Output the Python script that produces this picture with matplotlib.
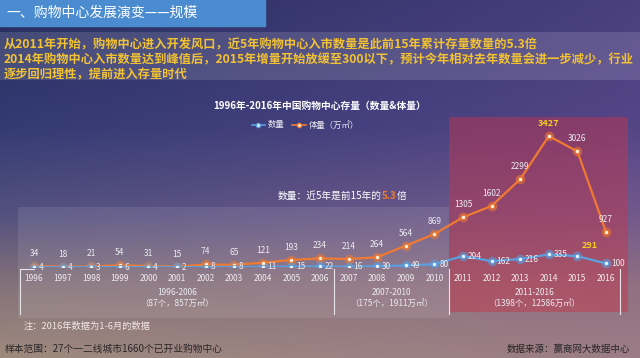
import numpy as np
import matplotlib
matplotlib.use('Agg')
import matplotlib.pyplot as plt
from matplotlib.patches import Rectangle
from matplotlib.lines import Line2D

plt.rcParams['font.family'] = ['Noto Sans CJK SC', 'DejaVu Sans']

years = list(range(1996, 2017))
count = [4, 4, 3, 6, 4, 2, 8, 8, 11, 15, 22, 16, 30, 49, 80, 294, 162, 216, 335, 291, 100]
volume = [34, 18, 21, 54, 31, 15, 74, 65, 121, 193, 234, 214, 264, 564, 869, 1305, 1602, 2299, 3427, 3026, 927]
periods = ['1996-2006', '2007-2010', '2011-2016']
period_info = ['（87个，857万㎡）', '（175个，1911万㎡）', '（1398个，12586万㎡）']
period_edges = [1995.5, 2006.5, 2010.5, 2016.5]

W, H = 640, 358
fig = plt.figure(figsize=(6.4, 3.58), dpi=100)

# background gradient
bg = fig.add_axes([0, 0, 1, 1])
bg.set_xlim(0, W)
bg.set_ylim(H, 0)
bg.axis('off')
stops = np.array([0.0, 0.35, 0.6, 0.8, 1.0])
left_c = np.array([[0.15, 0.18, 0.37], [0.20, 0.23, 0.45], [0.33, 0.32, 0.50],
                   [0.52, 0.45, 0.48], [0.62, 0.54, 0.49]])
right_c = np.array([[0.29, 0.25, 0.50], [0.33, 0.27, 0.53], [0.45, 0.35, 0.55],
                    [0.57, 0.44, 0.51], [0.61, 0.49, 0.53]])
ty = np.linspace(0, 1, H)
tx = np.linspace(0, 1, W)
L = np.stack([np.interp(ty, stops, left_c[:, k]) for k in range(3)], axis=1)
R = np.stack([np.interp(ty, stops, right_c[:, k]) for k in range(3)], axis=1)
img = L[:, None, :] * (1 - tx[None, :, None]) + R[:, None, :] * tx[None, :, None]
bg.imshow(img, extent=(0, W, H, 0), aspect='auto', zorder=0)

# header
bg.add_patch(Rectangle((0, 0), 265, 26, color='#4a8ccf', zorder=1))
bg.text(6, 13, '一、购物中心发展演变——规模', color='white', fontsize=10,
        va='center', ha='left', zorder=2)
bg.add_patch(Rectangle((0, 32), W, 48, color='white', alpha=0.13, zorder=1, lw=0))
lines = ['从2011年开始，购物中心进入开发风口，近5年购物中心入市数量是此前15年累计存量数量的5.3倍',
         '2014年购物中心入市数量达到峰值后，2015年增量开始放缓至300以下，预计今年相对去年数量会进一步减少，行业',
         '逐步回归理性，提前进入存量时代']
for i, s in enumerate(lines):
    bg.text(4, 45 + i * 15, s, color='#f2c232', fontsize=8.8, fontweight='bold',
            va='center', ha='left', zorder=2)

# panels
bg.add_patch(Rectangle((18, 207), 431, 111, color='white', alpha=0.09, lw=0, zorder=1))
bg.add_patch(Rectangle((449, 117), 179, 195, color='#c8344a', alpha=0.45, lw=0, zorder=1))

bg.text(320, 106, '1996年-2016年中国购物中心存量（数量&体量）', color='white',
        fontsize=7, fontweight='bold', ha='center', va='center')

# data axes: x 1995..2017 -> 5.4..634.6 px ; y 0..3700 -> 267.3..125.6 px
ax = fig.add_axes([5.4 / W, (H - 267.3) / H, 629.2 / W, 141.7 / H])
ax.set_facecolor('none')
ax.set_xlim(1995, 2017)
ax.set_ylim(0, 3700)
for sp in ax.spines.values():
    sp.set_visible(False)
ax.set_yticks([])
ax.set_xticks(years)
ax.set_xticklabels([str(y) for y in years])
ax.tick_params(axis='x', length=0, pad=4.5, labelsize=6, labelcolor='#f0ecf0')

orange = '#f07a32'
blue = '#5aa0e0'
ax.plot(years, volume, color=orange, lw=1.6, zorder=3)
ax.plot(years, count, color=blue, lw=1.6, zorder=3)
ax.plot(years, volume, 'o', ms=6, color=orange, alpha=0.45, zorder=4)
ax.plot(years, count, 'o', ms=6, color=blue, alpha=0.45, zorder=4)
ax.plot(years, volume, 'o', ms=3, mfc='#fff3e0', mec=orange, mew=0.6, zorder=5)
ax.plot(years, count, 'o', ms=3, mfc='#eef6ff', mec=blue, mew=0.6, zorder=5)

vmax = volume.index(max(volume))
for i, (y, v) in enumerate(zip(years, volume)):
    if i == vmax:
        ax.annotate(str(v), (y, v), xytext=(0, 9), textcoords='offset points',
                    ha='center', va='center', fontsize=6.5, fontweight='bold',
                    color='#f5d020', annotation_clip=False)
    else:
        ax.annotate(str(v), (y, v), xytext=(0, 9), textcoords='offset points',
                    ha='center', va='center', fontsize=6, color='#ecebf2',
                    annotation_clip=False)
for i, (y, c) in enumerate(zip(years, count)):
    if y == 2015:
        ax.annotate(str(c), (y, c), xytext=(3, 8), textcoords='offset points',
                    ha='left', va='center', fontsize=6.5, fontweight='bold',
                    color='#f5d020', annotation_clip=False)
    else:
        ax.annotate(str(c), (y, c), xytext=(3.5, 0), textcoords='offset points',
                    ha='left', va='center', fontsize=6, color='#ecebf2',
                    annotation_clip=False)

# period brackets
tr = ax.get_xaxis_transform()
for e in period_edges:
    ax.plot([e, e], [-0.01, -0.33], color='#e8e4ea', lw=0.8, transform=tr, clip_on=False)
ax.plot([period_edges[0], 1996], [-0.01, -0.01], color='#e8e4ea', lw=0.8,
        transform=tr, clip_on=False)
for k in range(3):
    xm = (period_edges[k] + period_edges[k + 1]) / 2
    ax.text(xm, -0.18, periods[k], transform=tr, ha='center', va='center',
            fontsize=6, color='#ecebf2')
    ax.text(xm, -0.255, period_info[k], transform=tr, ha='center', va='center',
            fontsize=6, color='#ecebf2')

# annotation, pieces chained so they never overlap
t1 = bg.text(382, 196, '数量：近5年是前15年的', color='white', fontsize=7, ha='right', va='center')
t2 = bg.annotate('5.3', xy=(1, 0.5), xycoords=t1, ha='left', va='center',
                 color='#f07a32', fontsize=7, fontweight='bold')
bg.annotate('倍', xy=(1, 0.5), xycoords=t2, ha='left', va='center',
            color='white', fontsize=7)

# legend
handles = [Line2D([], [], color=blue, lw=1.2, marker='o', ms=3, mfc='#eef6ff', mec=blue),
           Line2D([], [], color=orange, lw=1.2, marker='o', ms=3, mfc='#fff3e0', mec=orange)]
fig.legend(handles, ['数量', '体量（万㎡）'], loc='center', bbox_to_anchor=(305 / W, 1 - 125 / H),
           ncol=2, frameon=False, fontsize=6, labelcolor='#ecebf2', handlelength=1.6,
           columnspacing=1.0, handletextpad=0.3)

bg.text(24, 326, '注：2016年数据为1-6月的数据', color='#f0e8e4', fontsize=6.7, ha='left', va='center')
bg.text(5, 349, '样本范围：27个一二线城市1660个已开业购物中心', color='#2a2628', fontsize=7,
        ha='left', va='center')
bg.text(630, 349, '数据来源：赢商网大数据中心', color='#2a2628', fontsize=6.8,
        ha='right', va='center')

fig.savefig('out.png', dpi=100)
